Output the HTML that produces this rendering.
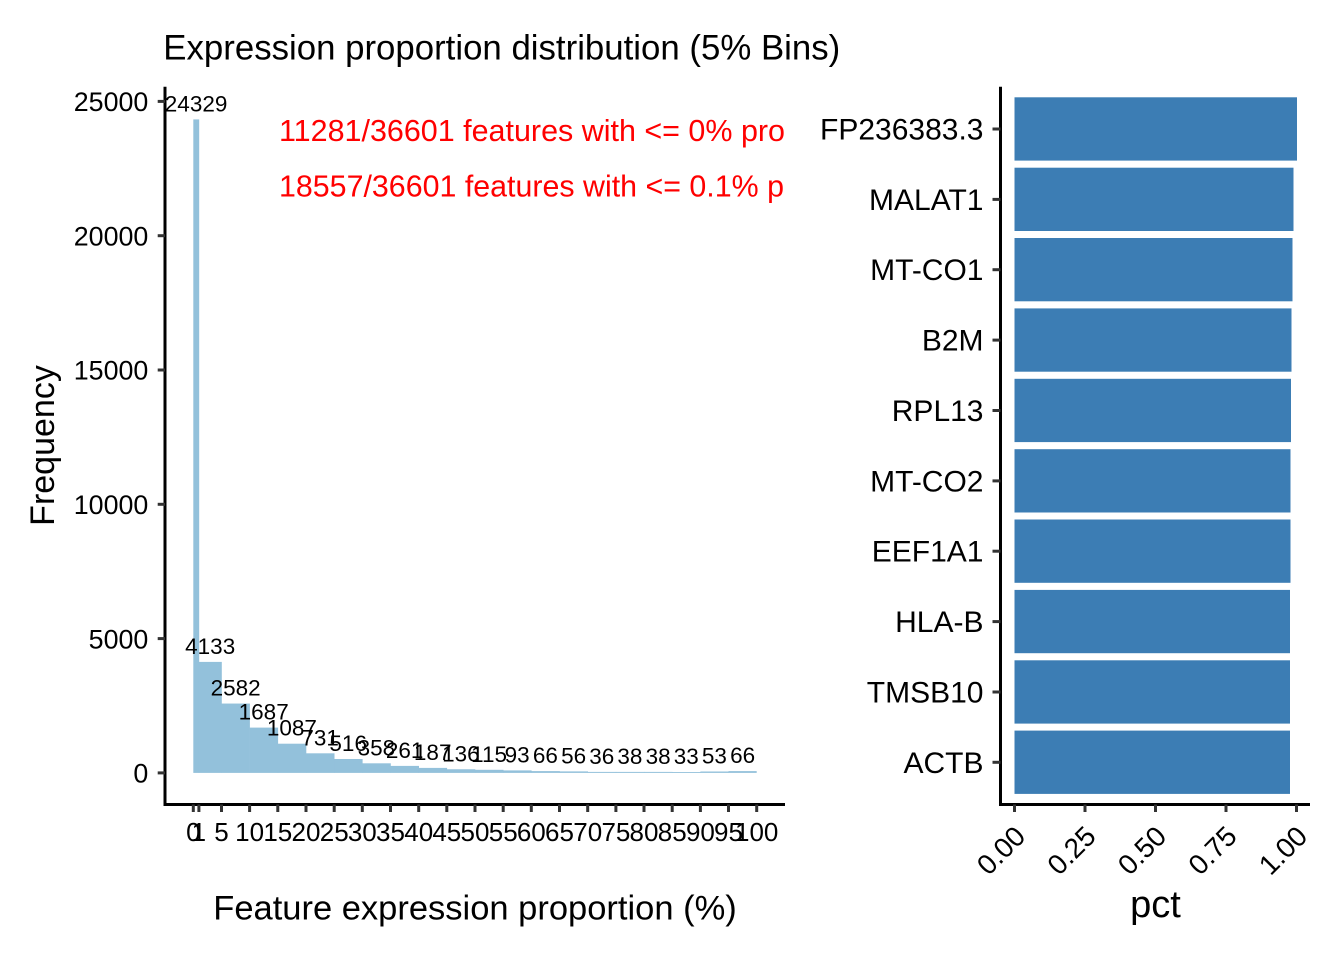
<!DOCTYPE html>
<html>
<head>
<meta charset="utf-8">
<style>
  html, body { margin: 0; padding: 0; background: #ffffff; }
  svg { display: block; }
  text { font-family: "Liberation Sans", Arial, sans-serif; }
</style>
</head>
<body>
<svg width="1344" height="960" viewBox="0 0 1344 960" xmlns="http://www.w3.org/2000/svg">
  <rect x="0" y="0" width="1344" height="960" fill="#ffffff"/>
  <defs>
    <clipPath id="lp"><rect x="165" y="60" width="620" height="745"/></clipPath>
  </defs>

  <!-- ===== LEFT PANEL ===== -->
  <text x="163.3" y="59.5" font-size="34.8" fill="#000">Expression proportion distribution (5% Bins)</text>

  <!-- bars -->
  <g fill="#93C1DB">
    <rect x="193.3" y="119.4" width="5.9" height="653.5"/>
    <rect x="198.9" y="661.9" width="22.9" height="111.0"/>
    <rect x="221.5" y="703.55" width="28.4" height="69.35"/>
    <rect x="249.6" y="727.6" width="28.5" height="45.3"/>
    <rect x="277.8" y="743.7" width="28.5" height="29.2"/>
    <rect x="306.0" y="753.3" width="28.5" height="19.6"/>
    <rect x="334.2" y="759.0" width="28.4" height="13.9"/>
    <rect x="362.3" y="763.3" width="28.5" height="9.6"/>
    <rect x="390.5" y="765.9" width="28.5" height="7.0"/>
    <rect x="418.7" y="767.9" width="28.4" height="5.0"/>
    <rect x="446.8" y="769.25" width="28.5" height="3.65"/>
    <rect x="475.0" y="769.8" width="28.5" height="3.1"/>
    <rect x="503.2" y="770.4" width="28.4" height="2.5"/>
    <rect x="531.3" y="771.1" width="28.5" height="1.8"/>
    <rect x="559.5" y="771.4" width="28.5" height="1.5"/>
    <rect x="587.7" y="771.9" width="28.5" height="1.0"/>
    <rect x="615.9" y="771.9" width="28.4" height="1.0"/>
    <rect x="644.0" y="771.9" width="28.5" height="1.0"/>
    <rect x="672.2" y="772.0" width="28.5" height="0.9"/>
    <rect x="700.4" y="771.5" width="28.4" height="1.4"/>
    <rect x="728.5" y="771.1" width="28.2" height="1.8"/>
  </g>

  <!-- count labels -->
  <g font-size="22.5" fill="#000" text-anchor="middle">
    <text x="196.1" y="111.4">24329</text>
    <text x="210.2" y="653.9">4133</text>
    <text x="235.6" y="695.5">2582</text>
    <text x="263.7" y="719.6">1687</text>
    <text x="291.9" y="735.7">1087</text>
    <text x="320.1" y="745.3">731</text>
    <text x="348.2" y="751.0">516</text>
    <text x="376.4" y="755.3">358</text>
    <text x="404.6" y="757.9">261</text>
    <text x="432.7" y="759.9">187</text>
    <text x="460.9" y="761.25">136</text>
    <text x="489.1" y="761.8">115</text>
    <text x="517.2" y="762.4">93</text>
    <text x="545.4" y="763.1">66</text>
    <text x="573.6" y="763.4">56</text>
    <text x="601.8" y="763.9">36</text>
    <text x="629.9" y="763.9">38</text>
    <text x="658.1" y="763.9">38</text>
    <text x="686.3" y="764.0">33</text>
    <text x="714.4" y="763.5">53</text>
    <text x="742.6" y="763.1">66</text>
  </g>

  <!-- red annotations (clipped at panel edge) -->
  <g clip-path="url(#lp)" font-size="30.3" fill="#FF0000">
    <text x="279" y="141" textLength="506" lengthAdjust="spacingAndGlyphs">11281/36601 features with &lt;= 0% pro</text>
    <text x="279" y="196.7" textLength="505" lengthAdjust="spacingAndGlyphs">18557/36601 features with &lt;= 0.1% p</text>
  </g>

  <!-- axes -->
  <line x1="165" y1="86.7" x2="165" y2="806" stroke="#000" stroke-width="3"/>
  <line x1="163.5" y1="804.5" x2="785" y2="804.5" stroke="#000" stroke-width="3"/>

  <!-- y ticks -->
  <g stroke="#333" stroke-width="3">
    <line x1="157.7" y1="772.9" x2="165" y2="772.9"/>
    <line x1="157.7" y1="638.6" x2="165" y2="638.6"/>
    <line x1="157.7" y1="504.3" x2="165" y2="504.3"/>
    <line x1="157.7" y1="370.0" x2="165" y2="370.0"/>
    <line x1="157.7" y1="235.7" x2="165" y2="235.7"/>
    <line x1="157.7" y1="101.4" x2="165" y2="101.4"/>
  </g>
  <g font-size="26.8" fill="#000" text-anchor="end">
    <text x="148.3" y="782.6">0</text>
    <text x="148.3" y="648.3">5000</text>
    <text x="148.3" y="514.0">10000</text>
    <text x="148.3" y="379.7">15000</text>
    <text x="148.3" y="245.4">20000</text>
    <text x="148.3" y="111.1">25000</text>
  </g>

  <!-- x ticks -->
  <g stroke="#333" stroke-width="3">
    <line x1="193.3" y1="804.5" x2="193.3" y2="812"/>
    <line x1="198.9" y1="804.5" x2="198.9" y2="812"/>
    <line x1="221.5" y1="804.5" x2="221.5" y2="812"/>
    <line x1="249.6" y1="804.5" x2="249.6" y2="812"/>
    <line x1="277.8" y1="804.5" x2="277.8" y2="812"/>
    <line x1="306.0" y1="804.5" x2="306.0" y2="812"/>
    <line x1="334.2" y1="804.5" x2="334.2" y2="812"/>
    <line x1="362.3" y1="804.5" x2="362.3" y2="812"/>
    <line x1="390.5" y1="804.5" x2="390.5" y2="812"/>
    <line x1="418.7" y1="804.5" x2="418.7" y2="812"/>
    <line x1="446.8" y1="804.5" x2="446.8" y2="812"/>
    <line x1="475.0" y1="804.5" x2="475.0" y2="812"/>
    <line x1="503.2" y1="804.5" x2="503.2" y2="812"/>
    <line x1="531.3" y1="804.5" x2="531.3" y2="812"/>
    <line x1="559.5" y1="804.5" x2="559.5" y2="812"/>
    <line x1="587.7" y1="804.5" x2="587.7" y2="812"/>
    <line x1="615.9" y1="804.5" x2="615.9" y2="812"/>
    <line x1="644.0" y1="804.5" x2="644.0" y2="812"/>
    <line x1="672.2" y1="804.5" x2="672.2" y2="812"/>
    <line x1="700.4" y1="804.5" x2="700.4" y2="812"/>
    <line x1="728.5" y1="804.5" x2="728.5" y2="812"/>
    <line x1="756.7" y1="804.5" x2="756.7" y2="812"/>
  </g>
  <g font-size="26" fill="#000" text-anchor="middle">
    <text x="193.3" y="841">0</text>
    <text x="198.9" y="841">1</text>
    <text x="221.5" y="841">5</text>
    <text x="249.6" y="841">10</text>
    <text x="277.8" y="841">15</text>
    <text x="306.0" y="841">20</text>
    <text x="334.2" y="841">25</text>
    <text x="362.3" y="841">30</text>
    <text x="390.5" y="841">35</text>
    <text x="418.7" y="841">40</text>
    <text x="446.8" y="841">45</text>
    <text x="475.0" y="841">50</text>
    <text x="503.2" y="841">55</text>
    <text x="531.3" y="841">60</text>
    <text x="559.5" y="841">65</text>
    <text x="587.7" y="841">70</text>
    <text x="615.9" y="841">75</text>
    <text x="644.0" y="841">80</text>
    <text x="672.2" y="841">85</text>
    <text x="700.4" y="841">90</text>
    <text x="728.5" y="841">95</text>
    <text x="756.7" y="841">100</text>
  </g>

  <text x="475" y="919.5" font-size="34.5" fill="#000" text-anchor="middle">Feature expression proportion (%)</text>
  <text x="0" y="0" font-size="34" fill="#000" text-anchor="middle" transform="translate(54,445.5) rotate(-90)">Frequency</text>

  <!-- ===== RIGHT PANEL ===== -->
  <g fill="#3C7DB4">
    <rect x="1014.5" y="97.3" width="282.5" height="63.3"/>
    <rect x="1014.5" y="167.7" width="279" height="63.3"/>
    <rect x="1014.5" y="238.0" width="278" height="63.3"/>
    <rect x="1014.5" y="308.4" width="277" height="63.3"/>
    <rect x="1014.5" y="378.8" width="276.5" height="63.3"/>
    <rect x="1014.5" y="449.2" width="276" height="63.3"/>
    <rect x="1014.5" y="519.5" width="276" height="63.3"/>
    <rect x="1014.5" y="589.9" width="275.5" height="63.3"/>
    <rect x="1014.5" y="660.3" width="275.5" height="63.3"/>
    <rect x="1014.5" y="730.6" width="275.5" height="63.3"/>
  </g>

  <line x1="1000.5" y1="86.7" x2="1000.5" y2="806" stroke="#000" stroke-width="3"/>
  <line x1="999" y1="804.5" x2="1310" y2="804.5" stroke="#000" stroke-width="3"/>

  <g stroke="#333" stroke-width="3">
    <line x1="992.5" y1="129.0" x2="1000.5" y2="129.0"/>
    <line x1="992.5" y1="199.4" x2="1000.5" y2="199.4"/>
    <line x1="992.5" y1="269.7" x2="1000.5" y2="269.7"/>
    <line x1="992.5" y1="340.1" x2="1000.5" y2="340.1"/>
    <line x1="992.5" y1="410.5" x2="1000.5" y2="410.5"/>
    <line x1="992.5" y1="480.9" x2="1000.5" y2="480.9"/>
    <line x1="992.5" y1="551.2" x2="1000.5" y2="551.2"/>
    <line x1="992.5" y1="621.6" x2="1000.5" y2="621.6"/>
    <line x1="992.5" y1="692.0" x2="1000.5" y2="692.0"/>
    <line x1="992.5" y1="762.3" x2="1000.5" y2="762.3"/>
    <line x1="1014.5" y1="804.5" x2="1014.5" y2="812"/>
    <line x1="1085" y1="804.5" x2="1085" y2="812"/>
    <line x1="1155.5" y1="804.5" x2="1155.5" y2="812"/>
    <line x1="1226" y1="804.5" x2="1226" y2="812"/>
    <line x1="1296.5" y1="804.5" x2="1296.5" y2="812"/>
  </g>

  <g font-size="30" fill="#000" text-anchor="end">
    <text x="983.5" y="139.5">FP236383.3</text>
    <text x="983.5" y="209.9">MALAT1</text>
    <text x="983.5" y="280.2">MT-CO1</text>
    <text x="983.5" y="350.6">B2M</text>
    <text x="983.5" y="421.0">RPL13</text>
    <text x="983.5" y="491.4">MT-CO2</text>
    <text x="983.5" y="561.7">EEF1A1</text>
    <text x="983.5" y="632.1">HLA-B</text>
    <text x="983.5" y="702.5">TMSB10</text>
    <text x="983.5" y="772.8">ACTB</text>
  </g>

  <g font-size="28" fill="#000" text-anchor="end">
    <text x="0" y="0" transform="translate(1027,838) rotate(-45)">0.00</text>
    <text x="0" y="0" transform="translate(1097.5,838) rotate(-45)">0.25</text>
    <text x="0" y="0" transform="translate(1168,838) rotate(-45)">0.50</text>
    <text x="0" y="0" transform="translate(1238.5,838) rotate(-45)">0.75</text>
    <text x="0" y="0" transform="translate(1309,838) rotate(-45)">1.00</text>
  </g>

  <text x="1155.5" y="917" font-size="38" fill="#000" text-anchor="middle">pct</text>
</svg>
</body>
</html>
